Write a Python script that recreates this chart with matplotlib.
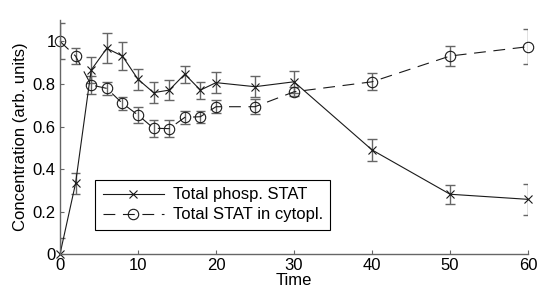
import matplotlib
matplotlib.use("Agg")
import matplotlib.pyplot as plt
import numpy as np

time = [0, 2, 4, 6, 8, 10, 12, 14, 16, 18, 20, 25, 30, 40, 50, 60]
phosp = [0.0, 0.333, 0.865, 0.967, 0.931, 0.822, 0.759, 0.771, 0.846, 0.771, 0.806, 0.787, 0.81, 0.49, 0.282, 0.258]
phosp_err = [0.075, 0.048, 0.06, 0.07, 0.065, 0.05, 0.05, 0.047, 0.04, 0.04, 0.048, 0.05, 0.053, 0.05, 0.045, 0.072]
cyto = [1.0, 0.931, 0.795, 0.779, 0.709, 0.654, 0.592, 0.59, 0.643, 0.646, 0.693, 0.693, 0.763, 0.81, 0.931, 0.975]
cyto_err = [0.085, 0.039, 0.04, 0.03, 0.03, 0.036, 0.04, 0.04, 0.03, 0.028, 0.03, 0.035, 0.022, 0.04, 0.045, 0.082]
yticks = [0, 0.2, 0.4, 0.6, 0.8, 1.0]
yticklabels = ["0", "0.2", "0.4", "0.6", "0.8", "1"]
xticks = [0, 10, 20, 30, 40, 50, 60]

plt.rcParams['font.family'] = ['Liberation Sans', 'DejaVu Sans']
plt.rcParams['font.size'] = 12
plt.rcParams['lines.scale_dashes'] = False

fig = plt.figure(figsize=(5.45, 2.99), dpi=100)
ax = fig.add_axes([0.110, 0.1495, 0.859, 0.7835])

ecol = '0.4'
cap_half = 0.62  # half-width of error caps in time units
t = np.array(time, dtype=float)
for vals, errs in ((phosp, phosp_err), (cyto, cyto_err)):
    v = np.array(vals)
    e = np.array(errs)
    ax.vlines(t, v - e, v + e, colors=ecol, linewidth=1.0)
    ax.hlines(v + e, t - cap_half, t + cap_half, colors=ecol, linewidth=1.0)
    ax.hlines(v - e, t - cap_half, t + cap_half, colors=ecol, linewidth=1.0)

l1, = ax.plot(time, phosp, color='0.1', lw=0.8, marker='x', markersize=5.5,
              markeredgewidth=0.8, label='Total phosp. STAT', clip_on=False)
l2, = ax.plot(time, cyto, color='0.1', lw=0.8, linestyle=(0, (8.5, 5.5)),
              marker='o', markersize=7.5, markerfacecolor='none',
              markeredgewidth=0.8, label='Total STAT in cytopl.', clip_on=False)

ax.set_xlim(0, 60)
ax.set_ylim(0, 1.1)
ax.set_xticks(xticks)
ax.set_yticks(yticks)
ax.set_yticklabels(yticklabels)
ax.spines['top'].set_visible(False)
ax.spines['right'].set_visible(False)
for s in ('left', 'bottom'):
    ax.spines[s].set_color('0.4')
    ax.spines[s].set_linewidth(1.0)
ax.tick_params(direction='in', length=3, width=0.8, color='0.4', pad=3,
               labelsize=12, labelcolor='black')

ax.set_xlabel('Time', fontsize=12, labelpad=0)
ax.set_ylabel('Concentration (arb. units)', fontsize=12, labelpad=3)

leg = ax.legend(handles=[l1, l2], loc='lower left', bbox_to_anchor=(0.075, 0.104),
                fontsize=12, handlelength=3.7, handletextpad=0.5, borderpad=0.45,
                labelspacing=0.3, frameon=True, fancybox=False, framealpha=1,
                edgecolor='black', borderaxespad=0)
leg.get_frame().set_linewidth(0.8)

fig.savefig('out.png', dpi=100)
